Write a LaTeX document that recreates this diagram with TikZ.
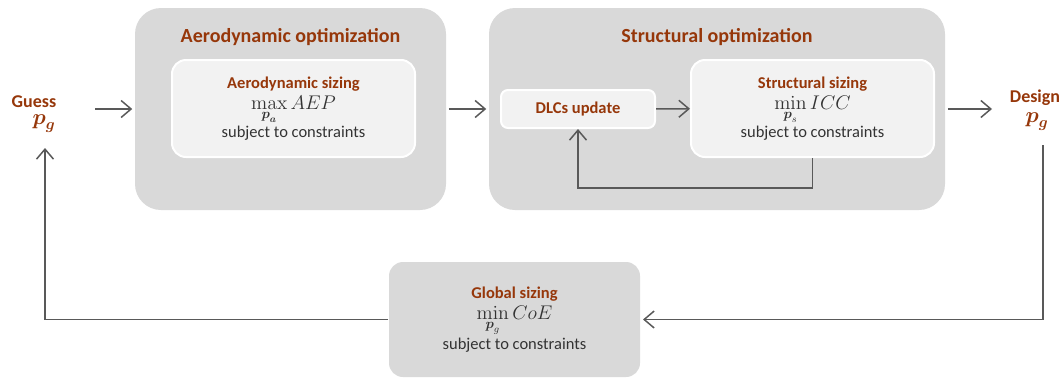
\RequirePackage{fix-cm}
\documentclass[tikz,border=0pt]{standalone}
\usepackage{amsmath}
\usepackage[no-math]{fontspec}
\setmainfont{Carlito}
\usetikzlibrary{arrows.meta}
\definecolor{brn}{RGB}{150,55,10}
\definecolor{boxgray}{RGB}{217,217,217}
\definecolor{innergray}{RGB}{242,242,242}
\definecolor{linegray}{RGB}{89,89,89}
\newcommand{\subttl}[1]{{\bfseries\color{brn}#1}}
% operator with its variable stacked below, then the objective
\newcommand{\optln}[3]{\scalebox{1.2}{$\vtop{\baselineskip=8pt\halign{\hfil##\hfil\cr$#1$\cr$\scriptstyle#2$\cr}}\,#3$}}

\begin{document}
\begin{tikzpicture}[x=1pt, y=-1pt, line width=1.5pt,
    outerbox/.style={fill=boxgray, rounded corners=26pt, minimum height=202pt},
    innerbox/.style={draw=white, line width=2pt, fill=innergray, rounded corners=14pt, align=center,
        font=\fontsize{16.5}{19}\selectfont, text=black!80},
    ttl/.style={text=brn, font=\bfseries\fontsize{20}{24}\selectfont},
    io/.style={text=brn, font=\bfseries\fontsize{18}{22}\selectfont, inner sep=1pt},
    pvar/.style={text=brn, inner sep=1pt, font=\fontsize{22}{26}\selectfont},
    arr/.style={draw=linegray, -{Straight Barb[length=10pt,width=17pt]}}]
    \useasboundingbox (0,0) rectangle (1062,378);

    % optimization loops
    \node[outerbox, minimum width=311pt] (aero) at (290.5,109) {};
    \node[outerbox, minimum width=456pt] (struct) at (717,109) {};
    \node[ttl] (aerottl) at (290.5,37) {Aerodynamic optimization};
    \node[ttl] (structttl) at (717,37) {Structural optimization};
    \node[innerbox, minimum width=243pt, minimum height=97pt] (aerosz) at (293.5,108.5)
        {\subttl{Aerodynamic sizing}\\[2pt] \optln{\max}{\boldsymbol{p}_{\boldsymbol{a}}}{AEP}\\[3pt] subject to constraints};
    \node[innerbox, rounded corners=7pt, minimum width=154pt, minimum height=38pt] (dlc) at (578,109)
        {\subttl{DLCs update}};
    \node[innerbox, minimum width=243pt, minimum height=97pt] (structsz) at (812.5,108.5)
        {\subttl{Structural sizing}\\[2pt] \optln{\min}{\boldsymbol{p}_s}{ICC}\\[3pt] subject to constraints};
    \node[innerbox, draw=none, fill=boxgray, minimum width=251pt, minimum height=115pt] (glob) at (514.5,319.5)
        {\subttl{Global sizing}\\[2pt] \optln{\min}{\boldsymbol{p}_g}{CoE}\\[3pt] subject to constraints};

    % in and out
    \node[io] (guess) at (34,102) {Guess};
    \node[pvar] (pgin) at (44,124) {$\boldsymbol{p}_{\boldsymbol{g}}$};
    \node[io] (design) at (1035,98) {Design};
    \node[pvar] (pgout) at (1037,122) {$\boldsymbol{p}_{\boldsymbol{g}}$};
    \coordinate (guessout) at (95,109);
    \coordinate (designin) at (992,109);
    \coordinate (designdown) at (1043,145);
    \coordinate (guessup) at (45,148);

    \draw[arr, shorten >=2pt] (guessout) -- (aero);
    \draw[arr, shorten <=2pt, shorten >=2pt] (aero) -- (struct);
    \draw[arr] (dlc) -- (structsz);
    \draw[arr] (structsz.south) -- ++(0,30) -| (dlc.south);
    \draw[arr, shorten <=2pt] (struct.east) -- (designin);
    \draw[arr, shorten >=2pt] (designdown) |- (glob.east);
    \draw[arr] (glob.west) -| (guessup);
\end{tikzpicture}
\end{document}
